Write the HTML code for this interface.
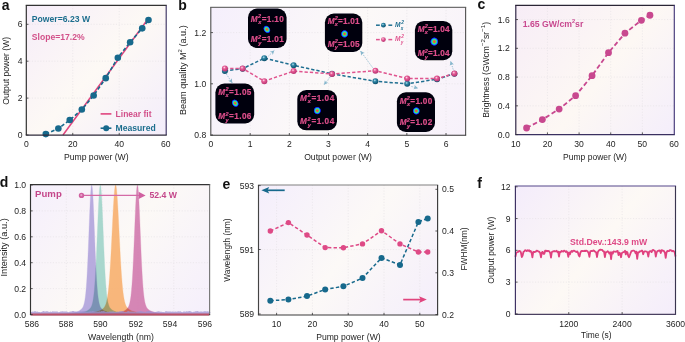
<!DOCTYPE html>
<html><head><meta charset="utf-8"><style>
html,body{margin:0;padding:0;background:#fff;width:685px;height:342px;overflow:hidden}
svg{display:block}
text{font-family:"Liberation Sans", sans-serif}
</style></head><body>
<svg width="685" height="342" viewBox="0 0 685 342">
<defs><linearGradient id="ga" gradientUnits="userSpaceOnUse" x1="26.3" y1="5.4" x2="166.2" y2="135.1"><stop offset="0" stop-color="#f6edf9"/><stop offset="0.5" stop-color="#fdf9f5"/><stop offset="1" stop-color="#f3edfb"/></linearGradient><linearGradient id="gb" gradientUnits="userSpaceOnUse" x1="210.8" y1="7.3" x2="465.6" y2="135.2"><stop offset="0" stop-color="#f5effc"/><stop offset="0.5" stop-color="#fcf9f8"/><stop offset="1" stop-color="#f7f1fb"/></linearGradient><radialGradient id="tg" cx="0.4" cy="0.35" r="0.65"><stop offset="0" stop-color="#bfe3ee"/><stop offset="0.35" stop-color="#2f86a6"/><stop offset="1" stop-color="#0d4e6b"/></radialGradient><radialGradient id="pg" cx="0.4" cy="0.35" r="0.65"><stop offset="0" stop-color="#fde0ee"/><stop offset="0.35" stop-color="#e65d97"/><stop offset="1" stop-color="#b93372"/></radialGradient><radialGradient id="spot"><stop offset="0" stop-color="#ff2868"/><stop offset="0.2" stop-color="#f05a3a"/><stop offset="0.42" stop-color="#48f058"/><stop offset="0.6" stop-color="#18c8e0"/><stop offset="0.78" stop-color="#1030ff"/><stop offset="0.92" stop-color="#080890"/><stop offset="1" stop-color="#000030" stop-opacity="0"/></radialGradient><filter id="soft" x="-10%" y="-10%" width="120%" height="120%"><feGaussianBlur stdDeviation="0.35"/></filter><linearGradient id="gc" gradientUnits="userSpaceOnUse" x1="515.8" y1="5.3" x2="674.3" y2="134.6"><stop offset="0" stop-color="#f7edf7"/><stop offset="0.55" stop-color="#fdf8f4"/><stop offset="1" stop-color="#f4eefb"/></linearGradient><linearGradient id="gd" gradientUnits="userSpaceOnUse" x1="30.5" y1="184.6" x2="209.6" y2="314.6"><stop offset="0" stop-color="#f5effc"/><stop offset="0.5" stop-color="#fcf9f6"/><stop offset="1" stop-color="#f5effc"/></linearGradient><linearGradient id="ge" gradientUnits="userSpaceOnUse" x1="258.5" y1="185" x2="437.6" y2="315"><stop offset="0" stop-color="#f4eefc"/><stop offset="0.5" stop-color="#fcf9f7"/><stop offset="1" stop-color="#f4eefb"/></linearGradient><linearGradient id="gf" gradientUnits="userSpaceOnUse" x1="515.4" y1="186" x2="675.5" y2="314.3"><stop offset="0" stop-color="#f4ecfb"/><stop offset="0.5" stop-color="#fdf9f5"/><stop offset="1" stop-color="#f4edfb"/></linearGradient></defs>
<rect width="685" height="342" fill="#fff"/>
<rect x="26.3" y="5.4" width="139.90" height="129.70" fill="url(#ga)"/>
<line x1="26.3" y1="98.10" x2="166.2" y2="98.10" stroke="#e2dee2" stroke-width="0.55" stroke-dasharray="1.1 1.7"/>
<line x1="26.3" y1="61.20" x2="166.2" y2="61.20" stroke="#e2dee2" stroke-width="0.55" stroke-dasharray="1.1 1.7"/>
<line x1="26.3" y1="24.30" x2="166.2" y2="24.30" stroke="#e2dee2" stroke-width="0.55" stroke-dasharray="1.1 1.7"/>
<line x1="72.76" y1="5.4" x2="72.76" y2="135.1" stroke="#e2dee2" stroke-width="0.55" stroke-dasharray="1.1 1.7"/>
<line x1="119.22" y1="5.4" x2="119.22" y2="135.1" stroke="#e2dee2" stroke-width="0.55" stroke-dasharray="1.1 1.7"/>
<line x1="63.00" y1="135.00" x2="148.49" y2="18.22" stroke="#e0457e" stroke-width="1.5"/>
<polyline points="45.81,134.08 58.36,128.54 69.74,120.06 81.82,109.54 93.67,95.52 105.75,78.17 117.83,57.69 130.14,42.20 142.22,28.36 148.49,20.06" fill="none" stroke="#17698c" stroke-width="1.6" stroke-dasharray="3.6 2.2" stroke-linejoin="round"/>
<circle cx="45.81" cy="134.08" r="3.3" fill="#17698c"/>
<circle cx="58.36" cy="128.54" r="3.3" fill="#17698c"/>
<circle cx="69.74" cy="120.06" r="3.3" fill="#17698c"/>
<circle cx="81.82" cy="109.54" r="3.3" fill="#17698c"/>
<circle cx="93.67" cy="95.52" r="3.3" fill="#17698c"/>
<circle cx="105.75" cy="78.17" r="3.3" fill="#17698c"/>
<circle cx="117.83" cy="57.69" r="3.3" fill="#17698c"/>
<circle cx="130.14" cy="42.20" r="3.3" fill="#17698c"/>
<circle cx="142.22" cy="28.36" r="3.3" fill="#17698c"/>
<circle cx="148.49" cy="20.06" r="3.3" fill="#17698c"/>
<line x1="25.725" y1="5.4" x2="166.77499999999998" y2="5.4" stroke="#333" stroke-width="1.15"/>
<line x1="166.2" y1="5.4" x2="166.2" y2="135.1" stroke="#3e3463" stroke-width="1.15"/>
<line x1="25.725" y1="135.1" x2="166.77499999999998" y2="135.1" stroke="#2e2a3a" stroke-width="1.15"/>
<line x1="26.3" y1="5.4" x2="26.3" y2="135.1" stroke="#2a2a2a" stroke-width="1.15"/>
<line x1="26.3" y1="135.00" x2="28.5" y2="135.00" stroke="#333" stroke-width="0.8"/>
<text x="22.60" y="138.10" font-size="8.6" text-anchor="end" font-weight="normal" font-style="normal" fill="#1e1e1e">0</text>
<line x1="26.3" y1="98.10" x2="28.5" y2="98.10" stroke="#333" stroke-width="0.8"/>
<text x="22.60" y="101.20" font-size="8.6" text-anchor="end" font-weight="normal" font-style="normal" fill="#1e1e1e">2</text>
<line x1="26.3" y1="61.20" x2="28.5" y2="61.20" stroke="#333" stroke-width="0.8"/>
<text x="22.60" y="64.30" font-size="8.6" text-anchor="end" font-weight="normal" font-style="normal" fill="#1e1e1e">4</text>
<line x1="26.3" y1="24.30" x2="28.5" y2="24.30" stroke="#333" stroke-width="0.8"/>
<text x="22.60" y="27.40" font-size="8.6" text-anchor="end" font-weight="normal" font-style="normal" fill="#1e1e1e">6</text>
<text x="26.30" y="146.90" font-size="8.6" text-anchor="middle" font-weight="normal" font-style="normal" fill="#1e1e1e">0</text>
<line x1="72.76" y1="135.1" x2="72.76" y2="132.9" stroke="#333" stroke-width="0.8"/>
<text x="72.76" y="146.90" font-size="8.6" text-anchor="middle" font-weight="normal" font-style="normal" fill="#1e1e1e">20</text>
<line x1="119.22" y1="135.1" x2="119.22" y2="132.9" stroke="#333" stroke-width="0.8"/>
<text x="119.22" y="146.90" font-size="8.6" text-anchor="middle" font-weight="normal" font-style="normal" fill="#1e1e1e">40</text>
<text x="165.68" y="146.90" font-size="8.6" text-anchor="middle" font-weight="normal" font-style="normal" fill="#1e1e1e">60</text>
<text x="96.30" y="160.00" font-size="8.65" text-anchor="middle" font-weight="normal" font-style="normal" fill="#1e1e1e">Pump power (W)</text>
<text x="9.10" y="70.80" font-size="8.65" text-anchor="middle" font-weight="normal" font-style="normal" fill="#1e1e1e" transform="rotate(-90 9.10 70.80)">Output power (W)</text>
<text x="31.80" y="22.10" font-size="8.65" text-anchor="start" font-weight="bold" font-style="normal" fill="#1d6e8e">Power=6.23 W</text>
<text x="31.80" y="39.80" font-size="8.6" text-anchor="start" font-weight="bold" font-style="normal" fill="#d2508a">Slope=17.2%</text>
<line x1="100.6" y1="113.9" x2="111.4" y2="113.9" stroke="#e0457e" stroke-width="1.6"/>
<text x="115.60" y="117.20" font-size="8.5" text-anchor="start" font-weight="bold" font-style="normal" fill="#d2508a">Linear fit</text>
<line x1="100.6" y1="128.2" x2="111.4" y2="128.2" stroke="#17698c" stroke-width="1.6"/>
<circle cx="106.20" cy="128.20" r="3.0" fill="#17698c"/>
<text x="115.60" y="131.20" font-size="8.6" text-anchor="start" font-weight="bold" font-style="normal" fill="#1d6e8e">Measured</text>
<text x="1.80" y="10.10" font-size="14" text-anchor="start" font-weight="bold" font-style="normal" fill="#111">a</text>
<rect x="210.8" y="7.3" width="254.80" height="127.90" fill="url(#gb)"/>
<line x1="210.8" y1="83.80" x2="465.6" y2="83.80" stroke="#e2dee2" stroke-width="0.55" stroke-dasharray="1.1 1.7"/>
<line x1="210.8" y1="32.60" x2="465.6" y2="32.60" stroke="#e2dee2" stroke-width="0.55" stroke-dasharray="1.1 1.7"/>
<line x1="250.17" y1="7.3" x2="250.17" y2="135.2" stroke="#e2dee2" stroke-width="0.55" stroke-dasharray="1.1 1.7"/>
<line x1="289.34" y1="7.3" x2="289.34" y2="135.2" stroke="#e2dee2" stroke-width="0.55" stroke-dasharray="1.1 1.7"/>
<line x1="328.51" y1="7.3" x2="328.51" y2="135.2" stroke="#e2dee2" stroke-width="0.55" stroke-dasharray="1.1 1.7"/>
<line x1="367.68" y1="7.3" x2="367.68" y2="135.2" stroke="#e2dee2" stroke-width="0.55" stroke-dasharray="1.1 1.7"/>
<line x1="406.85" y1="7.3" x2="406.85" y2="135.2" stroke="#e2dee2" stroke-width="0.55" stroke-dasharray="1.1 1.7"/>
<line x1="446.02" y1="7.3" x2="446.02" y2="135.2" stroke="#e2dee2" stroke-width="0.55" stroke-dasharray="1.1 1.7"/>
<polyline points="224.90,70.90 242.60,68.70 264.30,58.20 293.60,65.30 332.00,73.80 375.40,81.30 407.20,83.80 437.00,79.20 454.40,73.70" fill="none" stroke="#1f6f91" stroke-width="1.5" stroke-dasharray="3.3 2" stroke-linejoin="round"/>
<polyline points="224.90,68.40 242.60,68.50 264.30,81.20 293.60,71.10 332.00,74.00 375.40,70.70 407.20,78.50 437.00,78.60 454.40,73.50" fill="none" stroke="#e0558f" stroke-width="1.5" stroke-dasharray="3.3 2" stroke-linejoin="round"/>
<circle cx="224.90" cy="70.90" r="3.0" fill="url(#tg)"/>
<circle cx="242.60" cy="68.70" r="3.0" fill="url(#tg)"/>
<circle cx="264.30" cy="58.20" r="3.0" fill="url(#tg)"/>
<circle cx="293.60" cy="65.30" r="3.0" fill="url(#tg)"/>
<circle cx="332.00" cy="73.80" r="3.0" fill="url(#tg)"/>
<circle cx="375.40" cy="81.30" r="3.0" fill="url(#tg)"/>
<circle cx="407.20" cy="83.80" r="3.0" fill="url(#tg)"/>
<circle cx="437.00" cy="79.20" r="3.0" fill="url(#tg)"/>
<circle cx="454.40" cy="73.70" r="3.0" fill="url(#tg)"/>
<circle cx="224.90" cy="68.40" r="3.0" fill="url(#pg)"/>
<circle cx="242.60" cy="68.50" r="3.0" fill="url(#pg)"/>
<circle cx="264.30" cy="81.20" r="3.0" fill="url(#pg)"/>
<circle cx="293.60" cy="71.10" r="3.0" fill="url(#pg)"/>
<circle cx="332.00" cy="74.00" r="3.0" fill="url(#pg)"/>
<circle cx="375.40" cy="70.70" r="3.0" fill="url(#pg)"/>
<circle cx="407.20" cy="78.50" r="3.0" fill="url(#pg)"/>
<circle cx="437.00" cy="78.60" r="3.0" fill="url(#pg)"/>
<circle cx="454.40" cy="73.50" r="3.0" fill="url(#pg)"/>
<line x1="226.2" y1="73.8" x2="232.3" y2="83.0" stroke="#86b6cc" stroke-width="0.9" stroke-dasharray="1.2 1.2"/>
<path d="M232.30,83.00 L228.15,80.72 L230.53,80.33 L231.81,78.28 Z" fill="#86b6cc"/>
<line x1="268.5" y1="56.0" x2="274.3" y2="50.4" stroke="#86b6cc" stroke-width="0.9" stroke-dasharray="1.2 1.2"/>
<path d="M274.30,50.40 L272.81,54.90 L272.00,52.62 L269.75,51.73 Z" fill="#86b6cc"/>
<line x1="330.3" y1="76.8" x2="324.0" y2="84.8" stroke="#86b6cc" stroke-width="0.9" stroke-dasharray="1.2 1.2"/>
<path d="M324.00,84.80 L324.87,80.14 L325.98,82.29 L328.33,82.86 Z" fill="#86b6cc"/>
<line x1="372.5" y1="67.5" x2="360.5" y2="51.0" stroke="#86b6cc" stroke-width="0.9" stroke-dasharray="1.2 1.2"/>
<path d="M360.50,51.00 L364.75,53.10 L362.38,53.59 L361.19,55.69 Z" fill="#86b6cc"/>
<line x1="411.5" y1="86.5" x2="418.0" y2="88.2" stroke="#86b6cc" stroke-width="0.9" stroke-dasharray="1.2 1.2"/>
<path d="M418.00,88.20 L413.38,89.27 L414.90,87.39 L414.49,85.01 Z" fill="#86b6cc"/>
<line x1="453.2" y1="69.5" x2="450.6" y2="61.2" stroke="#86b6cc" stroke-width="0.9" stroke-dasharray="1.2 1.2"/>
<path d="M450.60,61.20 L453.95,64.55 L451.56,64.25 L449.76,65.87 Z" fill="#86b6cc"/>
<line x1="210.22500000000002" y1="7.3" x2="466.175" y2="7.3" stroke="#707070" stroke-width="1.15"/>
<line x1="465.6" y1="7.3" x2="465.6" y2="135.2" stroke="#555" stroke-width="1.15"/>
<line x1="210.22500000000002" y1="135.2" x2="466.175" y2="135.2" stroke="#333" stroke-width="1.15"/>
<line x1="210.8" y1="7.3" x2="210.8" y2="135.2" stroke="#555" stroke-width="1.15"/>
<line x1="210.8" y1="135.00" x2="213.0" y2="135.00" stroke="#333" stroke-width="0.8"/>
<text x="206.20" y="138.10" font-size="8.6" text-anchor="end" font-weight="normal" font-style="normal" fill="#1e1e1e">0.8</text>
<line x1="210.8" y1="83.80" x2="213.0" y2="83.80" stroke="#333" stroke-width="0.8"/>
<text x="206.20" y="86.90" font-size="8.6" text-anchor="end" font-weight="normal" font-style="normal" fill="#1e1e1e">1.0</text>
<line x1="210.8" y1="32.60" x2="213.0" y2="32.60" stroke="#333" stroke-width="0.8"/>
<text x="206.20" y="35.70" font-size="8.6" text-anchor="end" font-weight="normal" font-style="normal" fill="#1e1e1e">1.2</text>
<text x="211.00" y="146.90" font-size="8.6" text-anchor="middle" font-weight="normal" font-style="normal" fill="#1e1e1e">0</text>
<line x1="250.17" y1="135.2" x2="250.17" y2="133.0" stroke="#333" stroke-width="0.8"/>
<text x="250.17" y="146.90" font-size="8.6" text-anchor="middle" font-weight="normal" font-style="normal" fill="#1e1e1e">1</text>
<line x1="289.34" y1="135.2" x2="289.34" y2="133.0" stroke="#333" stroke-width="0.8"/>
<text x="289.34" y="146.90" font-size="8.6" text-anchor="middle" font-weight="normal" font-style="normal" fill="#1e1e1e">2</text>
<line x1="328.51" y1="135.2" x2="328.51" y2="133.0" stroke="#333" stroke-width="0.8"/>
<text x="328.51" y="146.90" font-size="8.6" text-anchor="middle" font-weight="normal" font-style="normal" fill="#1e1e1e">3</text>
<line x1="367.68" y1="135.2" x2="367.68" y2="133.0" stroke="#333" stroke-width="0.8"/>
<text x="367.68" y="146.90" font-size="8.6" text-anchor="middle" font-weight="normal" font-style="normal" fill="#1e1e1e">4</text>
<line x1="406.85" y1="135.2" x2="406.85" y2="133.0" stroke="#333" stroke-width="0.8"/>
<text x="406.85" y="146.90" font-size="8.6" text-anchor="middle" font-weight="normal" font-style="normal" fill="#1e1e1e">5</text>
<line x1="446.02" y1="135.2" x2="446.02" y2="133.0" stroke="#333" stroke-width="0.8"/>
<text x="446.02" y="146.90" font-size="8.6" text-anchor="middle" font-weight="normal" font-style="normal" fill="#1e1e1e">6</text>
<text x="338.10" y="159.70" font-size="8.6" text-anchor="middle" font-weight="normal" font-style="normal" fill="#1e1e1e">Output power (W)</text>
<text x="185.60" y="70.20" font-size="9.1" text-anchor="middle" font-weight="normal" font-style="normal" fill="#1e1e1e" transform="rotate(-90 185.60 70.20)">Beam quality M<tspan dy="-3.6" font-size="6">2</tspan><tspan dy="3.6"> (a.u.)</tspan></text>
<text x="178.30" y="10.40" font-size="14" text-anchor="start" font-weight="bold" font-style="normal" fill="#111">b</text>
<rect x="248.0" y="8.6" width="38.60" height="39.30" rx="9" ry="9" fill="#05040f" filter="url(#soft)"/>
<text x="250.80" y="22.00" font-size="8.2" font-weight="bold" fill="#dc4e8b" stroke="#dc4e8b" stroke-width="0.2" textLength="33.0" lengthAdjust="spacing"><tspan font-style="italic">M</tspan><tspan dy="-3.6" font-size="5.6" font-style="italic">2</tspan><tspan dx="-3.3" dy="6.0" font-size="5.6" font-style="italic">x</tspan><tspan dy="-2.4">=</tspan>1.10</text>
<text x="250.80" y="42.40" font-size="8.2" font-weight="bold" fill="#dc4e8b" stroke="#dc4e8b" stroke-width="0.2" textLength="33.0" lengthAdjust="spacing"><tspan font-style="italic">M</tspan><tspan dy="-3.6" font-size="5.6" font-style="italic">2</tspan><tspan dx="-3.3" dy="6.0" font-size="5.6" font-style="italic">y</tspan><tspan dy="-2.4">=</tspan>1.01</text>
<ellipse cx="266.9" cy="29.4" rx="3.4" ry="4.4" fill="url(#spot)" transform="rotate(-35 266.9 29.4)"/>
<rect x="215.4" y="83.6" width="38.80" height="39.90" rx="9" ry="9" fill="#05040f" filter="url(#soft)"/>
<text x="218.20" y="94.90" font-size="8.2" font-weight="bold" fill="#dc4e8b" stroke="#dc4e8b" stroke-width="0.2" textLength="33.2" lengthAdjust="spacing"><tspan font-style="italic">M</tspan><tspan dy="-3.6" font-size="5.6" font-style="italic">2</tspan><tspan dx="-3.3" dy="6.0" font-size="5.6" font-style="italic">x</tspan><tspan dy="-2.4">=</tspan>1.05</text>
<text x="218.20" y="119.40" font-size="8.2" font-weight="bold" fill="#dc4e8b" stroke="#dc4e8b" stroke-width="0.2" textLength="33.2" lengthAdjust="spacing"><tspan font-style="italic">M</tspan><tspan dy="-3.6" font-size="5.6" font-style="italic">2</tspan><tspan dx="-3.3" dy="6.0" font-size="5.6" font-style="italic">y</tspan><tspan dy="-2.4">=</tspan>1.06</text>
<ellipse cx="235.2" cy="103.2" rx="3.4" ry="4.3" fill="url(#spot)" transform="rotate(-35 235.2 103.2)"/>
<rect x="324.9" y="13.5" width="37.40" height="38.50" rx="9" ry="9" fill="#05040f" filter="url(#soft)"/>
<text x="327.70" y="23.60" font-size="8.2" font-weight="bold" fill="#dc4e8b" stroke="#dc4e8b" stroke-width="0.2" textLength="31.8" lengthAdjust="spacing"><tspan font-style="italic">M</tspan><tspan dy="-3.6" font-size="5.6" font-style="italic">2</tspan><tspan dx="-3.3" dy="6.0" font-size="5.6" font-style="italic">x</tspan><tspan dy="-2.4">=</tspan>1.01</text>
<text x="327.70" y="46.80" font-size="8.2" font-weight="bold" fill="#dc4e8b" stroke="#dc4e8b" stroke-width="0.2" textLength="31.8" lengthAdjust="spacing"><tspan font-style="italic">M</tspan><tspan dy="-3.6" font-size="5.6" font-style="italic">2</tspan><tspan dx="-3.3" dy="6.0" font-size="5.6" font-style="italic">y</tspan><tspan dy="-2.4">=</tspan>1.05</text>
<ellipse cx="344.6" cy="33.9" rx="3.9" ry="4.1" fill="url(#spot)" transform="rotate(0 344.6 33.9)"/>
<rect x="297.3" y="90" width="39.70" height="40.30" rx="9" ry="9" fill="#05040f" filter="url(#soft)"/>
<text x="300.10" y="100.90" font-size="8.2" font-weight="bold" fill="#dc4e8b" stroke="#dc4e8b" stroke-width="0.2" textLength="34.1" lengthAdjust="spacing"><tspan font-style="italic">M</tspan><tspan dy="-3.6" font-size="5.6" font-style="italic">2</tspan><tspan dx="-3.3" dy="6.0" font-size="5.6" font-style="italic">x</tspan><tspan dy="-2.4">=</tspan>1.04</text>
<text x="300.10" y="124.30" font-size="8.2" font-weight="bold" fill="#dc4e8b" stroke="#dc4e8b" stroke-width="0.2" textLength="34.1" lengthAdjust="spacing"><tspan font-style="italic">M</tspan><tspan dy="-3.6" font-size="5.6" font-style="italic">2</tspan><tspan dx="-3.3" dy="6.0" font-size="5.6" font-style="italic">y</tspan><tspan dy="-2.4">=</tspan>1.04</text>
<ellipse cx="317.3" cy="110.6" rx="3.9" ry="4.1" fill="url(#spot)" transform="rotate(0 317.3 110.6)"/>
<rect x="396.9" y="92.3" width="38.10" height="39.60" rx="9" ry="9" fill="#05040f" filter="url(#soft)"/>
<text x="399.70" y="103.90" font-size="8.2" font-weight="bold" fill="#dc4e8b" stroke="#dc4e8b" stroke-width="0.2" textLength="32.5" lengthAdjust="spacing"><tspan font-style="italic">M</tspan><tspan dy="-3.6" font-size="5.6" font-style="italic">2</tspan><tspan dx="-3.3" dy="6.0" font-size="5.6" font-style="italic">x</tspan><tspan dy="-2.4">=</tspan>1.00</text>
<text x="399.70" y="125.40" font-size="8.2" font-weight="bold" fill="#dc4e8b" stroke="#dc4e8b" stroke-width="0.2" textLength="32.5" lengthAdjust="spacing"><tspan font-style="italic">M</tspan><tspan dy="-3.6" font-size="5.6" font-style="italic">2</tspan><tspan dx="-3.3" dy="6.0" font-size="5.6" font-style="italic">y</tspan><tspan dy="-2.4">=</tspan>1.02</text>
<ellipse cx="416.3" cy="110.9" rx="3.8" ry="4.0" fill="url(#spot)" transform="rotate(0 416.3 110.9)"/>
<rect x="414.9" y="20.9" width="37.40" height="39.30" rx="9" ry="9" fill="#05040f" filter="url(#soft)"/>
<text x="417.70" y="31.90" font-size="8.2" font-weight="bold" fill="#dc4e8b" stroke="#dc4e8b" stroke-width="0.2" textLength="31.8" lengthAdjust="spacing"><tspan font-style="italic">M</tspan><tspan dy="-3.6" font-size="5.6" font-style="italic">2</tspan><tspan dx="-3.3" dy="6.0" font-size="5.6" font-style="italic">x</tspan><tspan dy="-2.4">=</tspan>1.04</text>
<text x="417.70" y="56.40" font-size="8.2" font-weight="bold" fill="#dc4e8b" stroke="#dc4e8b" stroke-width="0.2" textLength="31.8" lengthAdjust="spacing"><tspan font-style="italic">M</tspan><tspan dy="-3.6" font-size="5.6" font-style="italic">2</tspan><tspan dx="-3.3" dy="6.0" font-size="5.6" font-style="italic">y</tspan><tspan dy="-2.4">=</tspan>1.04</text>
<ellipse cx="434.3" cy="41.6" rx="4.3" ry="4.5" fill="url(#spot)" transform="rotate(0 434.3 41.6)"/>
<line x1="376" y1="25.2" x2="379.8" y2="25.2" stroke="#1f6f91" stroke-width="1.5"/>
<line x1="388.4" y1="25.2" x2="392.2" y2="25.2" stroke="#1f6f91" stroke-width="1.5"/>
<circle cx="383.40" cy="25.20" r="2.4" fill="url(#tg)"/>
<text x="395.00" y="26.90" font-size="6.6" text-anchor="start" font-weight="bold" font-style="italic" fill="#1f6f91">M<tspan dx="0.7" dy="-3.2" font-size="4.8">2</tspan><tspan dx="-3.0" dy="5.8" font-size="4.6">x</tspan></text>
<line x1="376" y1="39.6" x2="379.8" y2="39.6" stroke="#e0558f" stroke-width="1.5"/>
<line x1="388.4" y1="39.6" x2="392.2" y2="39.6" stroke="#e0558f" stroke-width="1.5"/>
<circle cx="383.40" cy="39.60" r="2.4" fill="url(#pg)"/>
<text x="395.00" y="41.30" font-size="6.6" text-anchor="start" font-weight="bold" font-style="italic" fill="#e0558f">M<tspan dx="0.7" dy="-3.2" font-size="4.8">2</tspan><tspan dx="-3.0" dy="5.8" font-size="4.6">y</tspan></text>
<rect x="515.8" y="5.3" width="158.50" height="129.30" fill="url(#gc)"/>
<line x1="515.8" y1="105.84" x2="674.3" y2="105.84" stroke="#e2dee2" stroke-width="0.55" stroke-dasharray="1.1 1.7"/>
<line x1="515.8" y1="77.08" x2="674.3" y2="77.08" stroke="#e2dee2" stroke-width="0.55" stroke-dasharray="1.1 1.7"/>
<line x1="515.8" y1="48.32" x2="674.3" y2="48.32" stroke="#e2dee2" stroke-width="0.55" stroke-dasharray="1.1 1.7"/>
<line x1="515.8" y1="19.56" x2="674.3" y2="19.56" stroke="#e2dee2" stroke-width="0.55" stroke-dasharray="1.1 1.7"/>
<line x1="547.44" y1="5.3" x2="547.44" y2="134.6" stroke="#e2dee2" stroke-width="0.55" stroke-dasharray="1.1 1.7"/>
<line x1="579.08" y1="5.3" x2="579.08" y2="134.6" stroke="#e2dee2" stroke-width="0.55" stroke-dasharray="1.1 1.7"/>
<line x1="610.72" y1="5.3" x2="610.72" y2="134.6" stroke="#e2dee2" stroke-width="0.55" stroke-dasharray="1.1 1.7"/>
<line x1="642.36" y1="5.3" x2="642.36" y2="134.6" stroke="#e2dee2" stroke-width="0.55" stroke-dasharray="1.1 1.7"/>
<polyline points="526.56,127.99 542.38,119.57 559.15,109.08 575.60,95.63 592.05,75.64 608.51,52.63 624.96,33.22 641.41,20.28 649.95,15.25" fill="none" stroke="#c8488f" stroke-width="1.8" stroke-dasharray="4.6 2.6" stroke-linejoin="round"/>
<circle cx="526.56" cy="127.99" r="3.4" fill="#c8488f"/>
<circle cx="542.38" cy="119.57" r="3.4" fill="#c8488f"/>
<circle cx="559.15" cy="109.08" r="3.4" fill="#c8488f"/>
<circle cx="575.60" cy="95.63" r="3.4" fill="#c8488f"/>
<circle cx="592.05" cy="75.64" r="3.4" fill="#c8488f"/>
<circle cx="608.51" cy="52.63" r="3.4" fill="#c8488f"/>
<circle cx="624.96" cy="33.22" r="3.4" fill="#c8488f"/>
<circle cx="641.41" cy="20.28" r="3.4" fill="#c8488f"/>
<circle cx="649.95" cy="15.25" r="3.4" fill="#c8488f"/>
<line x1="515.2249999999999" y1="5.3" x2="674.875" y2="5.3" stroke="#2a2535" stroke-width="1.15"/>
<line x1="674.3" y1="5.3" x2="674.3" y2="134.6" stroke="#45397a" stroke-width="1.15"/>
<line x1="515.2249999999999" y1="134.6" x2="674.875" y2="134.6" stroke="#3a3060" stroke-width="1.15"/>
<line x1="515.8" y1="5.3" x2="515.8" y2="134.6" stroke="#2a2040" stroke-width="1.15"/>
<line x1="515.8" y1="134.60" x2="518.0" y2="134.60" stroke="#333" stroke-width="0.8"/>
<text x="509.80" y="137.70" font-size="8.6" text-anchor="end" font-weight="normal" font-style="normal" fill="#1e1e1e">0.0</text>
<line x1="515.8" y1="105.84" x2="518.0" y2="105.84" stroke="#333" stroke-width="0.8"/>
<text x="509.80" y="108.94" font-size="8.6" text-anchor="end" font-weight="normal" font-style="normal" fill="#1e1e1e">0.4</text>
<line x1="515.8" y1="77.08" x2="518.0" y2="77.08" stroke="#333" stroke-width="0.8"/>
<text x="509.80" y="80.18" font-size="8.6" text-anchor="end" font-weight="normal" font-style="normal" fill="#1e1e1e">0.8</text>
<line x1="515.8" y1="48.32" x2="518.0" y2="48.32" stroke="#333" stroke-width="0.8"/>
<text x="509.80" y="51.42" font-size="8.6" text-anchor="end" font-weight="normal" font-style="normal" fill="#1e1e1e">1.2</text>
<line x1="515.8" y1="19.56" x2="518.0" y2="19.56" stroke="#333" stroke-width="0.8"/>
<text x="509.80" y="22.66" font-size="8.6" text-anchor="end" font-weight="normal" font-style="normal" fill="#1e1e1e">1.6</text>
<text x="515.80" y="146.90" font-size="8.6" text-anchor="middle" font-weight="normal" font-style="normal" fill="#1e1e1e">10</text>
<line x1="547.44" y1="134.6" x2="547.44" y2="132.4" stroke="#333" stroke-width="0.8"/>
<text x="547.44" y="146.90" font-size="8.6" text-anchor="middle" font-weight="normal" font-style="normal" fill="#1e1e1e">20</text>
<line x1="579.08" y1="134.6" x2="579.08" y2="132.4" stroke="#333" stroke-width="0.8"/>
<text x="579.08" y="146.90" font-size="8.6" text-anchor="middle" font-weight="normal" font-style="normal" fill="#1e1e1e">30</text>
<line x1="610.72" y1="134.6" x2="610.72" y2="132.4" stroke="#333" stroke-width="0.8"/>
<text x="610.72" y="146.90" font-size="8.6" text-anchor="middle" font-weight="normal" font-style="normal" fill="#1e1e1e">40</text>
<line x1="642.36" y1="134.6" x2="642.36" y2="132.4" stroke="#333" stroke-width="0.8"/>
<text x="642.36" y="146.90" font-size="8.6" text-anchor="middle" font-weight="normal" font-style="normal" fill="#1e1e1e">50</text>
<text x="674.00" y="146.90" font-size="8.6" text-anchor="middle" font-weight="normal" font-style="normal" fill="#1e1e1e">60</text>
<text x="595.00" y="160.00" font-size="8.5" text-anchor="middle" font-weight="normal" font-style="normal" fill="#1e1e1e">Pump power (W)</text>
<text x="489.40" y="69.80" font-size="8.55" text-anchor="middle" font-weight="normal" font-style="normal" fill="#1e1e1e" transform="rotate(-90 489.40 69.80)">Brightness (GWcm<tspan dy="-3.9" font-size="6.2">−2</tspan><tspan dy="3.9">sr</tspan><tspan dy="-3.9" font-size="6.2">−1</tspan><tspan dy="3.9">)</tspan></text>
<text x="522.70" y="26.90" font-size="8.7" text-anchor="start" font-weight="bold" font-style="normal" fill="#c8488f">1.65 GW/cm<tspan dy="-3.6" font-size="5.6">2</tspan><tspan dy="3.6">sr</tspan></text>
<text x="477.60" y="9.20" font-size="14" text-anchor="start" font-weight="bold" font-style="normal" fill="#111">c</text>
<rect x="30.5" y="184.6" width="179.10" height="130.00" fill="url(#gd)"/>
<line x1="30.5" y1="288.60" x2="209.6" y2="288.60" stroke="#e2dee2" stroke-width="0.55" stroke-dasharray="1.1 1.7"/>
<line x1="30.5" y1="262.70" x2="209.6" y2="262.70" stroke="#e2dee2" stroke-width="0.55" stroke-dasharray="1.1 1.7"/>
<line x1="30.5" y1="236.80" x2="209.6" y2="236.80" stroke="#e2dee2" stroke-width="0.55" stroke-dasharray="1.1 1.7"/>
<line x1="30.5" y1="210.90" x2="209.6" y2="210.90" stroke="#e2dee2" stroke-width="0.55" stroke-dasharray="1.1 1.7"/>
<line x1="66.32" y1="184.6" x2="66.32" y2="314.6" stroke="#e2dee2" stroke-width="0.55" stroke-dasharray="1.1 1.7"/>
<line x1="102.14" y1="184.6" x2="102.14" y2="314.6" stroke="#e2dee2" stroke-width="0.55" stroke-dasharray="1.1 1.7"/>
<line x1="137.96" y1="184.6" x2="137.96" y2="314.6" stroke="#e2dee2" stroke-width="0.55" stroke-dasharray="1.1 1.7"/>
<line x1="173.78" y1="184.6" x2="173.78" y2="314.6" stroke="#e2dee2" stroke-width="0.55" stroke-dasharray="1.1 1.7"/>
<g style="isolation:isolate" opacity="0.9">
<path d="M30.50,314.32 L31.00,314.32 L31.50,314.32 L31.99,314.32 L32.49,314.31 L32.99,314.31 L33.48,314.31 L33.98,314.30 L34.48,314.30 L34.98,314.30 L35.48,314.29 L35.97,314.29 L36.47,314.28 L36.97,314.28 L37.47,314.28 L37.96,314.27 L38.46,314.27 L38.96,314.26 L39.45,314.26 L39.95,314.25 L40.45,314.25 L40.95,314.24 L41.45,314.24 L41.94,314.23 L42.44,314.23 L42.94,314.22 L43.44,314.22 L43.93,314.21 L44.43,314.21 L44.93,314.20 L45.42,314.19 L45.92,314.19 L46.42,314.18 L46.92,314.17 L47.41,314.17 L47.91,314.16 L48.41,314.15 L48.91,314.14 L49.41,314.13 L49.90,314.13 L50.40,314.12 L50.90,314.11 L51.39,314.10 L51.89,314.09 L52.39,314.08 L52.89,314.07 L53.39,314.05 L53.88,314.04 L54.38,314.03 L54.88,314.02 L55.38,314.01 L55.87,313.99 L56.37,313.98 L56.87,313.96 L57.36,313.95 L57.86,313.93 L58.36,313.91 L58.86,313.90 L59.35,313.88 L59.85,313.86 L60.35,313.84 L60.85,313.82 L61.34,313.80 L61.84,313.77 L62.34,313.75 L62.84,313.72 L63.34,313.70 L63.83,313.67 L64.33,313.64 L64.83,313.61 L65.33,313.57 L65.82,313.54 L66.32,313.50 L66.82,313.46 L67.31,313.42 L67.81,313.38 L68.31,313.33 L68.81,313.28 L69.31,313.23 L69.80,313.17 L70.30,313.11 L70.80,313.05 L71.29,312.98 L71.79,312.91 L72.29,312.83 L72.79,312.75 L73.28,312.65 L73.78,312.56 L74.28,312.45 L74.78,312.34 L75.28,312.21 L75.77,312.08 L76.27,311.93 L76.77,311.77 L77.26,311.60 L77.76,311.40 L78.26,311.19 L78.76,310.96 L79.25,310.70 L79.75,310.42 L80.25,310.09 L80.75,309.72 L81.25,309.30 L81.74,308.79 L82.24,308.18 L82.74,307.41 L83.23,306.41 L83.73,305.10 L84.23,303.33 L84.73,300.95 L85.22,297.76 L85.72,293.52 L86.22,288.02 L86.72,281.05 L87.22,272.51 L87.71,262.39 L88.21,250.88 L88.71,238.35 L89.20,225.43 L89.70,212.90 L90.20,201.70 L90.70,192.80 L91.19,187.03 L91.69,185.00 L92.19,186.92 L92.69,192.57 L93.19,201.40 L93.68,212.54 L94.18,225.04 L94.68,237.97 L95.17,250.51 L95.67,262.06 L96.17,272.23 L96.67,280.82 L97.16,287.83 L97.66,293.38 L98.16,297.65 L98.66,300.87 L99.16,303.27 L99.65,305.05 L100.15,306.38 L100.65,307.38 L101.14,308.16 L101.64,308.77 L102.14,309.28 L102.64,309.71 L103.13,310.08 L103.63,310.41 L104.13,310.70 L104.63,310.95 L105.12,311.19 L105.62,311.40 L106.12,311.59 L106.62,311.77 L107.11,311.93 L107.61,312.07 L108.11,312.21 L108.61,312.33 L109.11,312.45 L109.60,312.55 L110.10,312.65 L110.60,312.74 L111.09,312.83 L111.59,312.91 L112.09,312.98 L112.59,313.05 L113.08,313.11 L113.58,313.17 L114.08,313.23 L114.58,313.28 L115.08,313.33 L115.57,313.38 L116.07,313.42 L116.57,313.46 L117.06,313.50 L117.56,313.54 L118.06,313.57 L118.56,313.61 L119.05,313.64 L119.55,313.67 L120.05,313.70 L120.55,313.72 L121.05,313.75 L121.54,313.77 L122.04,313.80 L122.54,313.82 L123.03,313.84 L123.53,313.86 L124.03,313.88 L124.53,313.90 L125.03,313.91 L125.52,313.93 L126.02,313.95 L126.52,313.96 L127.02,313.98 L127.51,313.99 L128.01,314.01 L128.51,314.02 L129.00,314.03 L129.50,314.04 L130.00,314.05 L130.50,314.07 L131.00,314.08 L131.49,314.09 L131.99,314.10 L132.49,314.11 L132.99,314.12 L133.48,314.13 L133.98,314.13 L134.48,314.14 L134.97,314.15 L135.47,314.16 L135.97,314.17 L136.47,314.17 L136.97,314.18 L137.46,314.19 L137.96,314.19 L138.46,314.20 L138.95,314.21 L139.45,314.21 L139.95,314.22 L140.45,314.22 L140.94,314.23 L141.44,314.23 L141.94,314.24 L142.44,314.24 L142.94,314.25 L143.43,314.25 L143.93,314.26 L144.43,314.26 L144.93,314.27 L145.42,314.27 L145.92,314.28 L146.42,314.28 L146.92,314.28 L147.41,314.29 L147.91,314.29 L148.41,314.30 L148.90,314.30 L149.40,314.30 L149.90,314.31 L150.40,314.31 L150.89,314.31 L151.39,314.32 L151.89,314.32 L152.39,314.32 L152.88,314.32 L153.38,314.33 L153.88,314.33 L154.38,314.33 L154.88,314.33 L155.37,314.34 L155.87,314.34 L156.37,314.34 L156.87,314.34 L157.36,314.35 L157.86,314.35 L158.36,314.35 L158.85,314.35 L159.35,314.36 L159.85,314.36 L160.35,314.36 L160.84,314.36 L161.34,314.36 L161.84,314.37 L162.34,314.37 L162.84,314.37 L163.33,314.37 L163.83,314.37 L164.33,314.37 L164.82,314.38 L165.32,314.38 L165.82,314.38 L166.32,314.38 L166.81,314.38 L167.31,314.38 L167.81,314.39 L168.31,314.39 L168.80,314.39 L169.30,314.39 L169.80,314.39 L170.30,314.39 L170.79,314.39 L171.29,314.40 L171.79,314.40 L172.29,314.40 L172.78,314.40 L173.28,314.40 L173.78,314.40 L174.28,314.40 L174.78,314.40 L175.27,314.41 L175.77,314.41 L176.27,314.41 L176.77,314.41 L177.26,314.41 L177.76,314.41 L178.26,314.41 L178.75,314.41 L179.25,314.41 L179.75,314.41 L180.25,314.42 L180.75,314.42 L181.24,314.42 L181.74,314.42 L182.24,314.42 L182.73,314.42 L183.23,314.42 L183.73,314.42 L184.23,314.42 L184.72,314.42 L185.22,314.42 L185.72,314.43 L186.22,314.43 L186.72,314.43 L187.21,314.43 L187.71,314.43 L188.21,314.43 L188.70,314.43 L189.20,314.43 L189.70,314.43 L190.20,314.43 L190.69,314.43 L191.19,314.43 L191.69,314.43 L192.19,314.43 L192.69,314.44 L193.18,314.44 L193.68,314.44 L194.18,314.44 L194.68,314.44 L195.17,314.44 L195.67,314.44 L196.17,314.44 L196.66,314.44 L197.16,314.44 L197.66,314.44 L198.16,314.44 L198.66,314.44 L199.15,314.44 L199.65,314.44 L200.15,314.44 L200.64,314.44 L201.14,314.44 L201.64,314.45 L202.14,314.45 L202.63,314.45 L203.13,314.45 L203.63,314.45 L204.13,314.45 L204.62,314.45 L205.12,314.45 L205.62,314.45 L206.12,314.45 L206.62,314.45 L207.11,314.45 L207.61,314.45 L208.11,314.45 L208.60,314.45 L209.10,314.45 L209.60,314.45 L209.6,314.6 L30.5,314.6 Z" fill="#b0a3dc" stroke="#b0a3dc" stroke-width="0.3" style="mix-blend-mode:multiply"/>
<path d="M30.50,314.35 L31.00,314.35 L31.50,314.35 L31.99,314.34 L32.49,314.34 L32.99,314.34 L33.48,314.34 L33.98,314.33 L34.48,314.33 L34.98,314.33 L35.48,314.33 L35.97,314.32 L36.47,314.32 L36.97,314.32 L37.47,314.31 L37.96,314.31 L38.46,314.31 L38.96,314.31 L39.45,314.30 L39.95,314.30 L40.45,314.30 L40.95,314.29 L41.45,314.29 L41.94,314.29 L42.44,314.28 L42.94,314.28 L43.44,314.27 L43.93,314.27 L44.43,314.27 L44.93,314.26 L45.42,314.26 L45.92,314.25 L46.42,314.25 L46.92,314.24 L47.41,314.24 L47.91,314.23 L48.41,314.23 L48.91,314.22 L49.41,314.22 L49.90,314.21 L50.40,314.21 L50.90,314.20 L51.39,314.19 L51.89,314.19 L52.39,314.18 L52.89,314.18 L53.39,314.17 L53.88,314.16 L54.38,314.15 L54.88,314.15 L55.38,314.14 L55.87,314.13 L56.37,314.12 L56.87,314.11 L57.36,314.11 L57.86,314.10 L58.36,314.09 L58.86,314.08 L59.35,314.07 L59.85,314.06 L60.35,314.04 L60.85,314.03 L61.34,314.02 L61.84,314.01 L62.34,314.00 L62.84,313.98 L63.34,313.97 L63.83,313.96 L64.33,313.94 L64.83,313.92 L65.33,313.91 L65.82,313.89 L66.32,313.87 L66.82,313.86 L67.31,313.84 L67.81,313.82 L68.31,313.80 L68.81,313.77 L69.31,313.75 L69.80,313.73 L70.30,313.70 L70.80,313.67 L71.29,313.65 L71.79,313.62 L72.29,313.59 L72.79,313.55 L73.28,313.52 L73.78,313.48 L74.28,313.45 L74.78,313.41 L75.28,313.36 L75.77,313.32 L76.27,313.27 L76.77,313.22 L77.26,313.17 L77.76,313.11 L78.26,313.05 L78.76,312.98 L79.25,312.92 L79.75,312.84 L80.25,312.76 L80.75,312.68 L81.25,312.59 L81.74,312.49 L82.24,312.38 L82.74,312.27 L83.23,312.15 L83.73,312.02 L84.23,311.87 L84.73,311.72 L85.22,311.54 L85.72,311.36 L86.22,311.15 L86.72,310.93 L87.22,310.68 L87.71,310.41 L88.21,310.10 L88.71,309.76 L89.20,309.36 L89.70,308.89 L90.20,308.33 L90.70,307.65 L91.19,306.78 L91.69,305.66 L92.19,304.18 L92.69,302.22 L93.19,299.62 L93.68,296.19 L94.18,291.75 L94.68,286.10 L95.17,279.10 L95.67,270.66 L96.17,260.82 L96.67,249.77 L97.16,237.85 L97.66,225.59 L98.16,213.67 L98.66,202.90 L99.16,194.09 L99.65,187.99 L100.15,185.16 L100.65,185.87 L101.14,190.05 L101.64,197.30 L102.14,206.99 L102.64,218.31 L103.13,230.45 L103.63,242.65 L104.13,254.29 L104.63,264.89 L105.12,274.18 L105.62,282.05 L106.12,288.50 L106.62,293.65 L107.11,297.66 L107.61,300.74 L108.11,303.06 L108.61,304.82 L109.11,306.14 L109.60,307.15 L110.10,307.94 L110.60,308.57 L111.09,309.09 L111.59,309.52 L112.09,309.90 L112.59,310.23 L113.08,310.52 L113.58,310.78 L114.08,311.02 L114.58,311.24 L115.08,311.43 L115.57,311.61 L116.07,311.78 L116.57,311.93 L117.06,312.07 L117.56,312.20 L118.06,312.32 L118.56,312.43 L119.05,312.53 L119.55,312.62 L120.05,312.71 L120.55,312.80 L121.05,312.87 L121.54,312.94 L122.04,313.01 L122.54,313.07 L123.03,313.13 L123.53,313.19 L124.03,313.24 L124.53,313.29 L125.03,313.34 L125.52,313.38 L126.02,313.42 L126.52,313.46 L127.02,313.50 L127.51,313.53 L128.01,313.57 L128.51,313.60 L129.00,313.63 L129.50,313.66 L130.00,313.69 L130.50,313.71 L131.00,313.74 L131.49,313.76 L131.99,313.78 L132.49,313.80 L132.99,313.82 L133.48,313.84 L133.98,313.86 L134.48,313.88 L134.97,313.90 L135.47,313.92 L135.97,313.93 L136.47,313.95 L136.97,313.96 L137.46,313.98 L137.96,313.99 L138.46,314.00 L138.95,314.01 L139.45,314.03 L139.95,314.04 L140.45,314.05 L140.94,314.06 L141.44,314.07 L141.94,314.08 L142.44,314.09 L142.94,314.10 L143.43,314.11 L143.93,314.12 L144.43,314.13 L144.93,314.13 L145.42,314.14 L145.92,314.15 L146.42,314.16 L146.92,314.16 L147.41,314.17 L147.91,314.18 L148.41,314.18 L148.90,314.19 L149.40,314.20 L149.90,314.20 L150.40,314.21 L150.89,314.21 L151.39,314.22 L151.89,314.23 L152.39,314.23 L152.88,314.24 L153.38,314.24 L153.88,314.25 L154.38,314.25 L154.88,314.25 L155.37,314.26 L155.87,314.26 L156.37,314.27 L156.87,314.27 L157.36,314.28 L157.86,314.28 L158.36,314.28 L158.85,314.29 L159.35,314.29 L159.85,314.29 L160.35,314.30 L160.84,314.30 L161.34,314.30 L161.84,314.31 L162.34,314.31 L162.84,314.31 L163.33,314.32 L163.83,314.32 L164.33,314.32 L164.82,314.32 L165.32,314.33 L165.82,314.33 L166.32,314.33 L166.81,314.33 L167.31,314.34 L167.81,314.34 L168.31,314.34 L168.80,314.34 L169.30,314.35 L169.80,314.35 L170.30,314.35 L170.79,314.35 L171.29,314.35 L171.79,314.36 L172.29,314.36 L172.78,314.36 L173.28,314.36 L173.78,314.36 L174.28,314.37 L174.78,314.37 L175.27,314.37 L175.77,314.37 L176.27,314.37 L176.77,314.37 L177.26,314.38 L177.76,314.38 L178.26,314.38 L178.75,314.38 L179.25,314.38 L179.75,314.38 L180.25,314.39 L180.75,314.39 L181.24,314.39 L181.74,314.39 L182.24,314.39 L182.73,314.39 L183.23,314.39 L183.73,314.39 L184.23,314.40 L184.72,314.40 L185.22,314.40 L185.72,314.40 L186.22,314.40 L186.72,314.40 L187.21,314.40 L187.71,314.40 L188.21,314.40 L188.70,314.41 L189.20,314.41 L189.70,314.41 L190.20,314.41 L190.69,314.41 L191.19,314.41 L191.69,314.41 L192.19,314.41 L192.69,314.41 L193.18,314.41 L193.68,314.42 L194.18,314.42 L194.68,314.42 L195.17,314.42 L195.67,314.42 L196.17,314.42 L196.66,314.42 L197.16,314.42 L197.66,314.42 L198.16,314.42 L198.66,314.42 L199.15,314.42 L199.65,314.43 L200.15,314.43 L200.64,314.43 L201.14,314.43 L201.64,314.43 L202.14,314.43 L202.63,314.43 L203.13,314.43 L203.63,314.43 L204.13,314.43 L204.62,314.43 L205.12,314.43 L205.62,314.43 L206.12,314.43 L206.62,314.43 L207.11,314.44 L207.61,314.44 L208.11,314.44 L208.60,314.44 L209.10,314.44 L209.60,314.44 L209.6,314.6 L30.5,314.6 Z" fill="#a0d4c9" stroke="#a0d4c9" stroke-width="0.3" style="mix-blend-mode:multiply"/>
<path d="M30.50,314.35 L31.00,314.35 L31.50,314.35 L31.99,314.35 L32.49,314.35 L32.99,314.34 L33.48,314.34 L33.98,314.34 L34.48,314.34 L34.98,314.34 L35.48,314.33 L35.97,314.33 L36.47,314.33 L36.97,314.33 L37.47,314.33 L37.96,314.32 L38.46,314.32 L38.96,314.32 L39.45,314.32 L39.95,314.31 L40.45,314.31 L40.95,314.31 L41.45,314.31 L41.94,314.30 L42.44,314.30 L42.94,314.30 L43.44,314.30 L43.93,314.29 L44.43,314.29 L44.93,314.29 L45.42,314.28 L45.92,314.28 L46.42,314.28 L46.92,314.27 L47.41,314.27 L47.91,314.27 L48.41,314.26 L48.91,314.26 L49.41,314.26 L49.90,314.25 L50.40,314.25 L50.90,314.25 L51.39,314.24 L51.89,314.24 L52.39,314.23 L52.89,314.23 L53.39,314.23 L53.88,314.22 L54.38,314.22 L54.88,314.21 L55.38,314.21 L55.87,314.20 L56.37,314.20 L56.87,314.19 L57.36,314.19 L57.86,314.18 L58.36,314.18 L58.86,314.17 L59.35,314.16 L59.85,314.16 L60.35,314.15 L60.85,314.15 L61.34,314.14 L61.84,314.13 L62.34,314.13 L62.84,314.12 L63.34,314.11 L63.83,314.10 L64.33,314.10 L64.83,314.09 L65.33,314.08 L65.82,314.07 L66.32,314.06 L66.82,314.06 L67.31,314.05 L67.81,314.04 L68.31,314.03 L68.81,314.02 L69.31,314.01 L69.80,314.00 L70.30,313.99 L70.80,313.97 L71.29,313.96 L71.79,313.95 L72.29,313.94 L72.79,313.92 L73.28,313.91 L73.78,313.90 L74.28,313.88 L74.78,313.87 L75.28,313.85 L75.77,313.84 L76.27,313.82 L76.77,313.80 L77.26,313.79 L77.76,313.77 L78.26,313.75 L78.76,313.73 L79.25,313.71 L79.75,313.69 L80.25,313.66 L80.75,313.64 L81.25,313.62 L81.74,313.59 L82.24,313.56 L82.74,313.54 L83.23,313.51 L83.73,313.48 L84.23,313.44 L84.73,313.41 L85.22,313.38 L85.72,313.34 L86.22,313.30 L86.72,313.26 L87.22,313.22 L87.71,313.18 L88.21,313.13 L88.71,313.08 L89.20,313.03 L89.70,312.97 L90.20,312.92 L90.70,312.86 L91.19,312.79 L91.69,312.72 L92.19,312.65 L92.69,312.57 L93.19,312.49 L93.68,312.41 L94.18,312.31 L94.68,312.22 L95.17,312.11 L95.67,312.00 L96.17,311.88 L96.67,311.75 L97.16,311.61 L97.66,311.47 L98.16,311.31 L98.66,311.14 L99.16,310.95 L99.65,310.75 L100.15,310.53 L100.65,310.29 L101.14,310.03 L101.64,309.74 L102.14,309.41 L102.64,309.03 L103.13,308.60 L103.63,308.10 L104.13,307.49 L104.63,306.75 L105.12,305.84 L105.62,304.69 L106.12,303.24 L106.62,301.41 L107.11,299.10 L107.61,296.20 L108.11,292.60 L108.61,288.19 L109.11,282.89 L109.60,276.61 L110.10,269.35 L110.60,261.14 L111.09,252.08 L111.59,242.36 L112.09,232.26 L112.59,222.13 L113.08,212.38 L113.58,203.48 L114.08,195.90 L114.58,190.07 L115.08,186.36 L115.57,185.00 L116.07,186.09 L116.57,189.55 L117.06,195.16 L117.56,202.57 L118.06,211.35 L118.56,221.03 L119.05,231.14 L119.55,241.26 L120.05,251.03 L120.55,260.18 L121.05,268.49 L121.54,275.86 L122.04,282.24 L122.54,287.65 L123.03,292.15 L123.53,295.84 L124.03,298.81 L124.53,301.18 L125.03,303.06 L125.52,304.55 L126.02,305.72 L126.52,306.66 L127.02,307.42 L127.51,308.04 L128.01,308.55 L128.51,308.99 L129.00,309.37 L129.50,309.70 L130.00,310.00 L130.50,310.26 L131.00,310.51 L131.49,310.73 L131.99,310.93 L132.49,311.12 L132.99,311.29 L133.48,311.45 L133.98,311.60 L134.48,311.74 L134.97,311.87 L135.47,311.99 L135.97,312.10 L136.47,312.21 L136.97,312.30 L137.46,312.40 L137.96,312.48 L138.46,312.57 L138.95,312.64 L139.45,312.72 L139.95,312.78 L140.45,312.85 L140.94,312.91 L141.44,312.97 L141.94,313.02 L142.44,313.07 L142.94,313.12 L143.43,313.17 L143.93,313.21 L144.43,313.26 L144.93,313.30 L145.42,313.34 L145.92,313.37 L146.42,313.41 L146.92,313.44 L147.41,313.47 L147.91,313.50 L148.41,313.53 L148.90,313.56 L149.40,313.59 L149.90,313.61 L150.40,313.64 L150.89,313.66 L151.39,313.68 L151.89,313.70 L152.39,313.73 L152.88,313.75 L153.38,313.77 L153.88,313.78 L154.38,313.80 L154.88,313.82 L155.37,313.84 L155.87,313.85 L156.37,313.87 L156.87,313.88 L157.36,313.90 L157.86,313.91 L158.36,313.92 L158.85,313.94 L159.35,313.95 L159.85,313.96 L160.35,313.97 L160.84,313.98 L161.34,314.00 L161.84,314.01 L162.34,314.02 L162.84,314.03 L163.33,314.04 L163.83,314.05 L164.33,314.05 L164.82,314.06 L165.32,314.07 L165.82,314.08 L166.32,314.09 L166.81,314.10 L167.31,314.10 L167.81,314.11 L168.31,314.12 L168.80,314.13 L169.30,314.13 L169.80,314.14 L170.30,314.15 L170.79,314.15 L171.29,314.16 L171.79,314.16 L172.29,314.17 L172.78,314.18 L173.28,314.18 L173.78,314.19 L174.28,314.19 L174.78,314.20 L175.27,314.20 L175.77,314.21 L176.27,314.21 L176.77,314.22 L177.26,314.22 L177.76,314.22 L178.26,314.23 L178.75,314.23 L179.25,314.24 L179.75,314.24 L180.25,314.25 L180.75,314.25 L181.24,314.25 L181.74,314.26 L182.24,314.26 L182.73,314.26 L183.23,314.27 L183.73,314.27 L184.23,314.27 L184.72,314.28 L185.22,314.28 L185.72,314.28 L186.22,314.29 L186.72,314.29 L187.21,314.29 L187.71,314.30 L188.21,314.30 L188.70,314.30 L189.20,314.30 L189.70,314.31 L190.20,314.31 L190.69,314.31 L191.19,314.31 L191.69,314.32 L192.19,314.32 L192.69,314.32 L193.18,314.32 L193.68,314.33 L194.18,314.33 L194.68,314.33 L195.17,314.33 L195.67,314.33 L196.17,314.34 L196.66,314.34 L197.16,314.34 L197.66,314.34 L198.16,314.34 L198.66,314.35 L199.15,314.35 L199.65,314.35 L200.15,314.35 L200.64,314.35 L201.14,314.35 L201.64,314.36 L202.14,314.36 L202.63,314.36 L203.13,314.36 L203.63,314.36 L204.13,314.36 L204.62,314.37 L205.12,314.37 L205.62,314.37 L206.12,314.37 L206.62,314.37 L207.11,314.37 L207.61,314.37 L208.11,314.38 L208.60,314.38 L209.10,314.38 L209.60,314.38 L209.6,314.6 L30.5,314.6 Z" fill="#f8b06e" stroke="#f8b06e" stroke-width="0.3" style="mix-blend-mode:multiply"/>
<path d="M30.50,314.44 L31.00,314.44 L31.50,314.44 L31.99,314.44 L32.49,314.44 L32.99,314.43 L33.48,314.43 L33.98,314.43 L34.48,314.43 L34.98,314.43 L35.48,314.43 L35.97,314.43 L36.47,314.43 L36.97,314.43 L37.47,314.43 L37.96,314.43 L38.46,314.43 L38.96,314.43 L39.45,314.43 L39.95,314.43 L40.45,314.42 L40.95,314.42 L41.45,314.42 L41.94,314.42 L42.44,314.42 L42.94,314.42 L43.44,314.42 L43.93,314.42 L44.43,314.42 L44.93,314.42 L45.42,314.42 L45.92,314.42 L46.42,314.41 L46.92,314.41 L47.41,314.41 L47.91,314.41 L48.41,314.41 L48.91,314.41 L49.41,314.41 L49.90,314.41 L50.40,314.41 L50.90,314.41 L51.39,314.40 L51.89,314.40 L52.39,314.40 L52.89,314.40 L53.39,314.40 L53.88,314.40 L54.38,314.40 L54.88,314.40 L55.38,314.39 L55.87,314.39 L56.37,314.39 L56.87,314.39 L57.36,314.39 L57.86,314.39 L58.36,314.39 L58.86,314.39 L59.35,314.38 L59.85,314.38 L60.35,314.38 L60.85,314.38 L61.34,314.38 L61.84,314.38 L62.34,314.37 L62.84,314.37 L63.34,314.37 L63.83,314.37 L64.33,314.37 L64.83,314.37 L65.33,314.36 L65.82,314.36 L66.32,314.36 L66.82,314.36 L67.31,314.36 L67.81,314.35 L68.31,314.35 L68.81,314.35 L69.31,314.35 L69.80,314.35 L70.30,314.34 L70.80,314.34 L71.29,314.34 L71.79,314.34 L72.29,314.33 L72.79,314.33 L73.28,314.33 L73.78,314.33 L74.28,314.32 L74.78,314.32 L75.28,314.32 L75.77,314.31 L76.27,314.31 L76.77,314.31 L77.26,314.30 L77.76,314.30 L78.26,314.30 L78.76,314.29 L79.25,314.29 L79.75,314.29 L80.25,314.28 L80.75,314.28 L81.25,314.28 L81.74,314.27 L82.24,314.27 L82.74,314.26 L83.23,314.26 L83.73,314.25 L84.23,314.25 L84.73,314.25 L85.22,314.24 L85.72,314.24 L86.22,314.23 L86.72,314.23 L87.22,314.22 L87.71,314.21 L88.21,314.21 L88.71,314.20 L89.20,314.20 L89.70,314.19 L90.20,314.18 L90.70,314.18 L91.19,314.17 L91.69,314.16 L92.19,314.16 L92.69,314.15 L93.19,314.14 L93.68,314.13 L94.18,314.12 L94.68,314.11 L95.17,314.11 L95.67,314.10 L96.17,314.09 L96.67,314.08 L97.16,314.07 L97.66,314.06 L98.16,314.04 L98.66,314.03 L99.16,314.02 L99.65,314.01 L100.15,314.00 L100.65,313.98 L101.14,313.97 L101.64,313.95 L102.14,313.94 L102.64,313.92 L103.13,313.91 L103.63,313.89 L104.13,313.87 L104.63,313.85 L105.12,313.83 L105.62,313.81 L106.12,313.79 L106.62,313.77 L107.11,313.74 L107.61,313.72 L108.11,313.69 L108.61,313.66 L109.11,313.63 L109.60,313.60 L110.10,313.57 L110.60,313.54 L111.09,313.50 L111.59,313.47 L112.09,313.43 L112.59,313.38 L113.08,313.34 L113.58,313.29 L114.08,313.24 L114.58,313.19 L115.08,313.13 L115.57,313.07 L116.07,313.01 L116.57,312.94 L117.06,312.86 L117.56,312.79 L118.06,312.70 L118.56,312.61 L119.05,312.51 L119.55,312.41 L120.05,312.29 L120.55,312.17 L121.05,312.04 L121.54,311.89 L122.04,311.73 L122.54,311.56 L123.03,311.37 L123.53,311.17 L124.03,310.94 L124.53,310.69 L125.03,310.41 L125.52,310.10 L126.02,309.75 L126.52,309.34 L127.02,308.86 L127.51,308.29 L128.01,307.57 L128.51,306.67 L129.00,305.49 L129.50,303.92 L130.00,301.84 L130.50,299.06 L131.00,295.39 L131.49,290.62 L131.99,284.57 L132.49,277.09 L132.99,268.12 L133.48,257.74 L133.98,246.19 L134.48,233.88 L134.97,221.44 L135.47,209.63 L135.97,199.31 L136.47,191.33 L136.97,186.41 L137.46,185.03 L137.96,187.32 L138.46,193.07 L138.95,201.71 L139.45,212.49 L139.95,224.54 L140.45,237.01 L140.94,249.18 L141.44,260.47 L141.94,270.52 L142.44,279.11 L142.94,286.22 L143.43,291.94 L143.93,296.40 L144.43,299.83 L144.93,302.42 L145.42,304.36 L145.92,305.81 L146.42,306.92 L146.92,307.77 L147.41,308.44 L147.91,308.99 L148.41,309.45 L148.90,309.84 L149.40,310.18 L149.90,310.48 L150.40,310.76 L150.89,311.00 L151.39,311.22 L151.89,311.42 L152.39,311.61 L152.88,311.77 L153.38,311.93 L153.88,312.07 L154.38,312.20 L154.88,312.32 L155.37,312.43 L155.87,312.54 L156.37,312.63 L156.87,312.72 L157.36,312.81 L157.86,312.88 L158.36,312.96 L158.85,313.02 L159.35,313.09 L159.85,313.15 L160.35,313.20 L160.84,313.25 L161.34,313.30 L161.84,313.35 L162.34,313.39 L162.84,313.44 L163.33,313.47 L163.83,313.51 L164.33,313.55 L164.82,313.58 L165.32,313.61 L165.82,313.64 L166.32,313.67 L166.81,313.70 L167.31,313.72 L167.81,313.75 L168.31,313.77 L168.80,313.79 L169.30,313.82 L169.80,313.84 L170.30,313.86 L170.79,313.87 L171.29,313.89 L171.79,313.91 L172.29,313.93 L172.78,313.94 L173.28,313.96 L173.78,313.97 L174.28,313.99 L174.78,314.00 L175.27,314.01 L175.77,314.02 L176.27,314.04 L176.77,314.05 L177.26,314.06 L177.76,314.07 L178.26,314.08 L178.75,314.09 L179.25,314.10 L179.75,314.11 L180.25,314.12 L180.75,314.13 L181.24,314.13 L181.74,314.14 L182.24,314.15 L182.73,314.16 L183.23,314.16 L183.73,314.17 L184.23,314.18 L184.72,314.19 L185.22,314.19 L185.72,314.20 L186.22,314.20 L186.72,314.21 L187.21,314.22 L187.71,314.22 L188.21,314.23 L188.70,314.23 L189.20,314.24 L189.70,314.24 L190.20,314.25 L190.69,314.25 L191.19,314.26 L191.69,314.26 L192.19,314.26 L192.69,314.27 L193.18,314.27 L193.68,314.28 L194.18,314.28 L194.68,314.28 L195.17,314.29 L195.67,314.29 L196.17,314.30 L196.66,314.30 L197.16,314.30 L197.66,314.31 L198.16,314.31 L198.66,314.31 L199.15,314.31 L199.65,314.32 L200.15,314.32 L200.64,314.32 L201.14,314.33 L201.64,314.33 L202.14,314.33 L202.63,314.33 L203.13,314.34 L203.63,314.34 L204.13,314.34 L204.62,314.34 L205.12,314.35 L205.62,314.35 L206.12,314.35 L206.62,314.35 L207.11,314.35 L207.61,314.36 L208.11,314.36 L208.60,314.36 L209.10,314.36 L209.60,314.36 L209.6,314.6 L30.5,314.6 Z" fill="#d27aae" stroke="#d27aae" stroke-width="0.3" style="mix-blend-mode:multiply"/>
</g>
<path d="M30.50,312.17 L31.50,312.04 L32.50,311.45 L33.50,311.68 L34.50,311.25 L35.50,311.35 L36.50,311.63 L37.50,311.45 L38.50,311.99 L39.50,311.96 L40.50,312.22 L41.50,311.96 L42.50,311.52 L43.50,311.09 L44.50,311.52 L45.50,311.47 L46.50,311.29 L47.50,311.24 L48.50,311.73 L49.50,312.11 L50.50,311.47 L51.50,311.89 L52.50,311.14 L53.50,311.42 L54.50,311.50 L55.50,311.58 L56.50,311.59 L57.50,311.43 L58.50,312.13 L59.50,311.88 L60.50,311.59 L61.50,311.56 L62.50,311.29 L63.50,311.56 L64.50,311.58 L65.50,311.58 L66.50,311.42 L67.50,311.82 L68.50,312.16 L69.50,311.75 L70.50,311.61 L71.50,311.53 L72.50,311.07 L73.50,311.11 L74.50,311.49 L75.50,311.39 L76.50,311.63 L77.50,311.63 L78.50,311.78 L79.50,311.84 L80.50,311.14 L81.50,311.60 L82.50,311.31 L83.50,311.09 L84.50,311.61 L85.50,311.54 L86.50,312.08 L87.50,311.90 L88.50,311.64 L89.50,311.53 L90.50,311.14 L91.50,311.41 L92.50,311.11 L93.50,311.24 L94.50,311.38 L95.50,311.67 L96.50,311.64 L97.50,311.64 L98.50,311.72 L99.50,311.37 L100.50,311.64 L101.50,311.12 L102.50,311.16 L103.50,311.01 L104.50,311.30 L105.50,311.90 L106.50,312.09 L107.50,311.71 L108.50,311.93 L109.50,311.43 L110.50,311.52 L111.50,311.52 L112.50,311.61 L113.50,311.24 L114.50,311.89 L115.50,312.05 L116.50,312.04 L117.50,311.45 L118.50,311.79 L119.50,311.37 L120.50,311.22 L121.50,311.00 L122.50,311.13 L123.50,311.26 L124.50,311.90 L125.50,312.06 L126.50,311.94 L127.50,311.33 L128.50,311.09 L129.50,311.53 L130.50,311.48 L131.50,311.48 L132.50,311.61 L133.50,311.63 L134.50,311.80 L135.50,312.14 L136.50,312.07 L137.50,311.56 L138.50,311.44 L139.50,311.21 L140.50,310.94 L141.50,311.22 L142.50,311.50 L143.50,311.65 L144.50,311.86 L145.50,312.16 L146.50,311.33 L147.50,311.22 L148.50,311.03 L149.50,311.04 L150.50,311.37 L151.50,311.49 L152.50,311.89 L153.50,311.76 L154.50,312.29 L155.50,312.03 L156.50,311.71 L157.50,311.58 L158.50,311.37 L159.50,311.57 L160.50,311.69 L161.50,311.75 L162.50,312.00 L163.50,312.07 L164.50,312.19 L165.50,311.36 L166.50,311.34 L167.50,311.54 L168.50,311.42 L169.50,311.40 L170.50,311.51 L171.50,311.87 L172.50,311.60 L173.50,311.65 L174.50,311.77 L175.50,311.53 L176.50,311.64 L177.50,311.54 L178.50,311.37 L179.50,311.50 L180.50,311.27 L181.50,311.95 L182.50,312.30 L183.50,311.56 L184.50,311.61 L185.50,311.68 L186.50,311.27 L187.50,311.58 L188.50,311.27 L189.50,311.07 L190.50,311.34 L191.50,311.69 L192.50,312.17 L193.50,311.84 L194.50,311.76 L195.50,311.17 L196.50,311.24 L197.50,311.06 L198.50,311.45 L199.50,311.68 L200.50,311.48 L201.50,311.62 L202.50,311.64 L203.50,311.42 L204.50,311.22 L205.50,311.14 L206.50,311.44 L207.50,311.27 L208.50,311.50 L209.50,311.91 L210.50,312.15 L209.6,314.6 L30.5,314.6 Z" fill="#9e90d2" fill-opacity="0.75"/>
<line x1="81.5" y1="195.4" x2="141" y2="195.4" stroke="#d46aa6" stroke-width="1.1"/>
<circle cx="81.5" cy="195.4" r="2.7" fill="#d060a0"/><circle cx="81.3" cy="195.2" r="1.1" fill="#e8a0c8"/>
<path d="M145.60,195.40 L138.60,199.00 L138.90,195.40 L138.60,191.80 Z" fill="#d060a0"/>
<text x="35.10" y="196.90" font-size="9.6" text-anchor="start" font-weight="bold" font-style="normal" fill="#c4478a">Pump</text>
<text x="149.40" y="197.90" font-size="8.7" text-anchor="start" font-weight="bold" font-style="normal" fill="#c4478a">52.4 W</text>
<line x1="29.925" y1="184.6" x2="210.17499999999998" y2="184.6" stroke="#333" stroke-width="1.15"/>
<line x1="209.6" y1="184.6" x2="209.6" y2="314.6" stroke="#777" stroke-width="1.15"/>
<line x1="29.925" y1="314.6" x2="210.17499999999998" y2="314.6" stroke="#444" stroke-width="1.15"/>
<line x1="30.5" y1="184.6" x2="30.5" y2="314.6" stroke="#333" stroke-width="1.15"/>
<line x1="31.0" y1="314.5" x2="209.1" y2="314.5" stroke="#bb4f66" stroke-width="2.2"/>
<line x1="30.5" y1="314.50" x2="32.7" y2="314.50" stroke="#333" stroke-width="0.8"/>
<text x="26.10" y="317.60" font-size="8.6" text-anchor="end" font-weight="normal" font-style="normal" fill="#1e1e1e">0.0</text>
<line x1="30.5" y1="288.60" x2="32.7" y2="288.60" stroke="#333" stroke-width="0.8"/>
<text x="26.10" y="291.70" font-size="8.6" text-anchor="end" font-weight="normal" font-style="normal" fill="#1e1e1e">0.2</text>
<line x1="30.5" y1="262.70" x2="32.7" y2="262.70" stroke="#333" stroke-width="0.8"/>
<text x="26.10" y="265.80" font-size="8.6" text-anchor="end" font-weight="normal" font-style="normal" fill="#1e1e1e">0.4</text>
<line x1="30.5" y1="236.80" x2="32.7" y2="236.80" stroke="#333" stroke-width="0.8"/>
<text x="26.10" y="239.90" font-size="8.6" text-anchor="end" font-weight="normal" font-style="normal" fill="#1e1e1e">0.6</text>
<line x1="30.5" y1="210.90" x2="32.7" y2="210.90" stroke="#333" stroke-width="0.8"/>
<text x="26.10" y="214.00" font-size="8.6" text-anchor="end" font-weight="normal" font-style="normal" fill="#1e1e1e">0.8</text>
<line x1="30.5" y1="185.00" x2="32.7" y2="185.00" stroke="#333" stroke-width="0.8"/>
<text x="26.10" y="188.10" font-size="8.6" text-anchor="end" font-weight="normal" font-style="normal" fill="#1e1e1e">1.0</text>
<text x="31.80" y="326.80" font-size="8.6" text-anchor="middle" font-weight="normal" font-style="normal" fill="#1e1e1e">586</text>
<text x="66.00" y="326.80" font-size="8.6" text-anchor="middle" font-weight="normal" font-style="normal" fill="#1e1e1e">588</text>
<text x="100.30" y="326.80" font-size="8.6" text-anchor="middle" font-weight="normal" font-style="normal" fill="#1e1e1e">590</text>
<text x="135.80" y="326.80" font-size="8.6" text-anchor="middle" font-weight="normal" font-style="normal" fill="#1e1e1e">592</text>
<text x="170.00" y="326.80" font-size="8.6" text-anchor="middle" font-weight="normal" font-style="normal" fill="#1e1e1e">594</text>
<text x="204.80" y="326.80" font-size="8.6" text-anchor="middle" font-weight="normal" font-style="normal" fill="#1e1e1e">596</text>
<text x="121.00" y="339.80" font-size="8.7" text-anchor="middle" font-weight="normal" font-style="normal" fill="#1e1e1e">Wavelength (nm)</text>
<text x="6.90" y="247.40" font-size="9.2" text-anchor="middle" font-weight="normal" font-style="normal" fill="#1e1e1e" transform="rotate(-90 6.90 247.40)">Intensity (a.u.)</text>
<text x="-0.30" y="187.40" font-size="14" text-anchor="start" font-weight="bold" font-style="normal" fill="#111">d</text>
<rect x="258.5" y="185" width="179.10" height="130.00" fill="url(#ge)"/>
<line x1="276.60" y1="185" x2="276.60" y2="315" stroke="#e2dee2" stroke-width="0.55" stroke-dasharray="1.1 1.7"/>
<line x1="312.40" y1="185" x2="312.40" y2="315" stroke="#e2dee2" stroke-width="0.55" stroke-dasharray="1.1 1.7"/>
<line x1="348.20" y1="185" x2="348.20" y2="315" stroke="#e2dee2" stroke-width="0.55" stroke-dasharray="1.1 1.7"/>
<line x1="384.00" y1="185" x2="384.00" y2="315" stroke="#e2dee2" stroke-width="0.55" stroke-dasharray="1.1 1.7"/>
<line x1="419.80" y1="185" x2="419.80" y2="315" stroke="#e2dee2" stroke-width="0.55" stroke-dasharray="1.1 1.7"/>
<line x1="258.5" y1="249.60" x2="437.6" y2="249.60" stroke="#e2dee2" stroke-width="0.55" stroke-dasharray="1.1 1.7"/>
<polyline points="270.30,231.00 288.40,222.60 307.00,235.00 325.20,247.60 343.40,247.70 362.50,243.90 381.50,230.70 400.00,243.90 418.40,252.00 427.70,252.00" fill="none" stroke="#de4a86" stroke-width="1.5" stroke-dasharray="3.4 2.2" stroke-linejoin="round"/>
<polyline points="270.30,300.70 288.40,299.60 307.00,296.10 325.20,289.50 343.40,286.30 362.50,278.10 381.50,257.90 400.00,264.90 418.40,221.90 427.70,218.40" fill="none" stroke="#17698c" stroke-width="1.5" stroke-dasharray="3.4 2.2" stroke-linejoin="round"/>
<circle cx="270.30" cy="231.00" r="2.7" fill="#de4a86"/>
<circle cx="288.40" cy="222.60" r="2.7" fill="#de4a86"/>
<circle cx="307.00" cy="235.00" r="2.7" fill="#de4a86"/>
<circle cx="325.20" cy="247.60" r="2.7" fill="#de4a86"/>
<circle cx="343.40" cy="247.70" r="2.7" fill="#de4a86"/>
<circle cx="362.50" cy="243.90" r="2.7" fill="#de4a86"/>
<circle cx="381.50" cy="230.70" r="2.7" fill="#de4a86"/>
<circle cx="400.00" cy="243.90" r="2.7" fill="#de4a86"/>
<circle cx="418.40" cy="252.00" r="2.7" fill="#de4a86"/>
<circle cx="427.70" cy="252.00" r="2.7" fill="#de4a86"/>
<circle cx="270.30" cy="300.70" r="3.0" fill="#17698c"/>
<circle cx="288.40" cy="299.60" r="3.0" fill="#17698c"/>
<circle cx="307.00" cy="296.10" r="3.0" fill="#17698c"/>
<circle cx="325.20" cy="289.50" r="3.0" fill="#17698c"/>
<circle cx="343.40" cy="286.30" r="3.0" fill="#17698c"/>
<circle cx="362.50" cy="278.10" r="3.0" fill="#17698c"/>
<circle cx="381.50" cy="257.90" r="3.0" fill="#17698c"/>
<circle cx="400.00" cy="264.90" r="3.0" fill="#17698c"/>
<circle cx="418.40" cy="221.90" r="3.0" fill="#17698c"/>
<circle cx="427.70" cy="218.40" r="3.0" fill="#17698c"/>
<line x1="266" y1="190.3" x2="284.7" y2="190.3" stroke="#17698c" stroke-width="1.7"/>
<path d="M261.40,190.30 L269.20,187.00 L267.60,190.30 L269.20,193.60 Z" fill="#17698c"/>
<line x1="403.2" y1="299.6" x2="421" y2="299.6" stroke="#e0457e" stroke-width="1.7"/>
<path d="M426.80,299.60 L419.00,302.90 L420.60,299.60 L419.00,296.30 Z" fill="#e0457e"/>
<line x1="257.925" y1="185" x2="438.175" y2="185" stroke="#808080" stroke-width="1.15"/>
<line x1="437.6" y1="185" x2="437.6" y2="315" stroke="#3a3a3a" stroke-width="1.15"/>
<line x1="257.925" y1="315" x2="438.175" y2="315" stroke="#3a3a3a" stroke-width="1.15"/>
<line x1="258.5" y1="185" x2="258.5" y2="315" stroke="#444" stroke-width="1.15"/>
<line x1="258.5" y1="314.00" x2="260.7" y2="314.00" stroke="#333" stroke-width="0.8"/>
<text x="254.00" y="317.10" font-size="8.6" text-anchor="end" font-weight="normal" font-style="normal" fill="#1e1e1e">589</text>
<line x1="258.5" y1="249.50" x2="260.7" y2="249.50" stroke="#333" stroke-width="0.8"/>
<text x="254.00" y="252.60" font-size="8.6" text-anchor="end" font-weight="normal" font-style="normal" fill="#1e1e1e">591</text>
<line x1="258.5" y1="185.60" x2="260.7" y2="185.60" stroke="#333" stroke-width="0.8"/>
<text x="254.00" y="188.70" font-size="8.6" text-anchor="end" font-weight="normal" font-style="normal" fill="#1e1e1e">593</text>
<line x1="437.6" y1="314.50" x2="435.40000000000003" y2="314.50" stroke="#333" stroke-width="0.8"/>
<text x="442.00" y="317.60" font-size="8.6" text-anchor="start" font-weight="normal" font-style="normal" fill="#1e1e1e">0.2</text>
<line x1="437.6" y1="272.80" x2="435.40000000000003" y2="272.80" stroke="#333" stroke-width="0.8"/>
<text x="442.00" y="275.90" font-size="8.6" text-anchor="start" font-weight="normal" font-style="normal" fill="#1e1e1e">0.3</text>
<line x1="437.6" y1="231.00" x2="435.40000000000003" y2="231.00" stroke="#333" stroke-width="0.8"/>
<text x="442.00" y="234.10" font-size="8.6" text-anchor="start" font-weight="normal" font-style="normal" fill="#1e1e1e">0.4</text>
<line x1="437.6" y1="189.30" x2="435.40000000000003" y2="189.30" stroke="#333" stroke-width="0.8"/>
<text x="442.00" y="192.40" font-size="8.6" text-anchor="start" font-weight="normal" font-style="normal" fill="#1e1e1e">0.5</text>
<line x1="276.60" y1="315" x2="276.60" y2="312.8" stroke="#333" stroke-width="0.8"/>
<text x="276.60" y="326.80" font-size="8.6" text-anchor="middle" font-weight="normal" font-style="normal" fill="#1e1e1e">10</text>
<line x1="312.40" y1="315" x2="312.40" y2="312.8" stroke="#333" stroke-width="0.8"/>
<text x="312.40" y="326.80" font-size="8.6" text-anchor="middle" font-weight="normal" font-style="normal" fill="#1e1e1e">20</text>
<line x1="348.20" y1="315" x2="348.20" y2="312.8" stroke="#333" stroke-width="0.8"/>
<text x="348.20" y="326.80" font-size="8.6" text-anchor="middle" font-weight="normal" font-style="normal" fill="#1e1e1e">30</text>
<line x1="384.00" y1="315" x2="384.00" y2="312.8" stroke="#333" stroke-width="0.8"/>
<text x="384.00" y="326.80" font-size="8.6" text-anchor="middle" font-weight="normal" font-style="normal" fill="#1e1e1e">40</text>
<line x1="419.80" y1="315" x2="419.80" y2="312.8" stroke="#333" stroke-width="0.8"/>
<text x="419.80" y="326.80" font-size="8.6" text-anchor="middle" font-weight="normal" font-style="normal" fill="#1e1e1e">50</text>
<text x="348.40" y="339.60" font-size="8.6" text-anchor="middle" font-weight="normal" font-style="normal" fill="#1e1e1e">Pump power (W)</text>
<text x="230.00" y="250.10" font-size="8.4" text-anchor="middle" font-weight="normal" font-style="normal" fill="#1e1e1e" transform="rotate(-90 230.00 250.10)">Wavelength (nm)</text>
<text x="466.50" y="249.00" font-size="8.35" text-anchor="middle" font-weight="normal" font-style="normal" fill="#1e1e1e" transform="rotate(-90 466.50 249.00)">FWHM(nm)</text>
<text x="222.50" y="188.50" font-size="14" text-anchor="start" font-weight="bold" font-style="normal" fill="#111">e</text>
<rect x="515.4" y="186" width="160.10" height="128.30" fill="url(#gf)"/>
<line x1="515.4" y1="282.12" x2="675.5" y2="282.12" stroke="#e2dee2" stroke-width="0.55" stroke-dasharray="1.1 1.7"/>
<line x1="515.4" y1="250.35" x2="675.5" y2="250.35" stroke="#e2dee2" stroke-width="0.55" stroke-dasharray="1.1 1.7"/>
<line x1="515.4" y1="218.57" x2="675.5" y2="218.57" stroke="#e2dee2" stroke-width="0.55" stroke-dasharray="1.1 1.7"/>
<line x1="568.77" y1="186" x2="568.77" y2="314.3" stroke="#e2dee2" stroke-width="0.55" stroke-dasharray="1.1 1.7"/>
<line x1="622.13" y1="186" x2="622.13" y2="314.3" stroke="#e2dee2" stroke-width="0.55" stroke-dasharray="1.1 1.7"/>
<polyline points="515.40,256.86 516.31,252.85 517.23,252.14 518.14,251.88 519.06,250.85 519.97,251.10 520.89,252.39 521.80,257.17 522.62,255.49 523.43,252.05 524.25,251.36 525.06,250.26 525.88,250.29 526.69,251.09 527.51,250.30 528.32,250.84 529.14,250.19 529.95,251.58 530.77,250.98 531.58,252.92 532.40,257.27 533.26,251.82 534.12,251.99 534.98,251.99 535.84,251.70 536.70,250.70 537.56,250.89 538.42,251.51 539.28,251.67 540.14,253.07 541.00,257.32 541.83,252.45 542.67,251.84 543.50,253.83 544.33,253.81 545.17,250.55 546.00,251.27 546.83,250.76 547.67,251.23 548.50,250.87 549.33,251.49 550.17,252.95 551.00,257.56 551.80,252.19 552.60,251.53 553.40,251.37 554.20,250.93 555.00,251.43 555.80,251.41 556.60,250.77 557.40,252.14 558.20,251.76 559.00,256.60 559.85,251.90 560.69,252.17 561.54,250.87 562.38,251.33 563.23,251.53 564.07,250.60 564.92,250.97 565.76,252.04 566.61,251.29 567.45,252.52 568.30,256.95 569.10,252.31 569.90,254.39 570.70,252.08 571.50,251.03 572.30,251.86 573.10,250.81 573.90,250.68 574.70,251.04 575.50,251.35 576.30,252.08 577.10,251.41 577.90,252.41 578.70,255.28 579.50,256.60 580.33,252.79 581.15,251.30 581.98,250.85 582.80,251.13 583.62,251.13 584.45,250.68 585.27,251.09 586.10,250.65 586.92,250.83 587.75,251.62 588.57,252.96 589.40,256.75 590.24,251.55 591.09,250.81 591.93,251.17 592.78,250.89 593.62,250.37 594.47,251.00 595.31,251.95 596.16,252.23 597.00,256.98 597.88,251.98 598.76,250.74 599.63,249.82 600.51,249.65 601.39,249.91 602.27,249.86 603.14,251.39 604.02,251.39 604.90,257.14 605.79,252.12 606.67,252.15 607.56,251.29 608.44,251.88 609.33,253.57 610.21,252.16 611.10,259.23 611.93,252.26 612.75,253.62 613.58,251.38 614.40,251.54 615.23,251.58 616.05,251.85 616.88,251.12 617.70,251.01 618.52,255.12 619.35,252.70 620.17,253.16 621.00,257.23 621.80,253.19 622.60,252.50 623.40,252.22 624.20,251.74 625.00,250.75 625.80,254.45 626.60,251.75 627.40,252.22 628.20,255.80 629.00,257.20 629.82,255.26 630.64,252.97 631.46,251.18 632.28,250.96 633.10,250.54 633.92,250.60 634.74,251.23 635.56,253.28 636.38,251.72 637.20,258.92 638.05,252.48 638.91,252.38 639.76,251.40 640.62,251.38 641.47,250.73 642.32,250.76 643.18,254.21 644.03,251.71 644.88,251.36 645.74,251.29 646.59,251.70 647.45,252.30 648.30,256.69 649.13,251.74 649.97,251.19 650.80,251.04 651.63,252.11 652.47,250.22 653.30,249.98 654.13,250.65 654.97,251.03 655.80,256.67 656.62,252.47 657.45,251.09 658.27,250.77 659.10,250.76 659.92,250.38 660.75,252.96 661.58,250.18 662.40,250.29 663.23,250.94 664.05,251.21 664.88,252.71 665.70,257.78 666.52,252.45 667.33,251.00 668.15,251.12 668.97,251.12 669.78,250.13 670.60,250.19 671.42,250.55 672.23,251.25 673.05,250.86 673.87,251.35 674.68,252.24 675.50,256.50" fill="none" stroke="#e0407e" stroke-width="1.8" stroke-linejoin="round"/>
<line x1="514.8249999999999" y1="186" x2="676.075" y2="186" stroke="#54468a" stroke-width="1.15"/>
<line x1="675.5" y1="186" x2="675.5" y2="314.3" stroke="#3a3550" stroke-width="1.15"/>
<line x1="514.8249999999999" y1="314.3" x2="676.075" y2="314.3" stroke="#4a4060" stroke-width="1.15"/>
<line x1="515.4" y1="186" x2="515.4" y2="314.3" stroke="#3a2d60" stroke-width="1.15"/>
<line x1="515.4" y1="313.90" x2="517.6" y2="313.90" stroke="#333" stroke-width="0.8"/>
<text x="510.60" y="317.00" font-size="8.6" text-anchor="end" font-weight="normal" font-style="normal" fill="#1e1e1e">0</text>
<line x1="515.4" y1="282.12" x2="517.6" y2="282.12" stroke="#333" stroke-width="0.8"/>
<text x="510.60" y="285.23" font-size="8.6" text-anchor="end" font-weight="normal" font-style="normal" fill="#1e1e1e">3</text>
<line x1="515.4" y1="250.35" x2="517.6" y2="250.35" stroke="#333" stroke-width="0.8"/>
<text x="510.60" y="253.45" font-size="8.6" text-anchor="end" font-weight="normal" font-style="normal" fill="#1e1e1e">6</text>
<line x1="515.4" y1="218.57" x2="517.6" y2="218.57" stroke="#333" stroke-width="0.8"/>
<text x="510.60" y="221.67" font-size="8.6" text-anchor="end" font-weight="normal" font-style="normal" fill="#1e1e1e">9</text>
<line x1="515.4" y1="186.80" x2="517.6" y2="186.80" stroke="#333" stroke-width="0.8"/>
<text x="510.60" y="189.90" font-size="8.6" text-anchor="end" font-weight="normal" font-style="normal" fill="#1e1e1e">12</text>
<line x1="568.77" y1="314.3" x2="568.77" y2="312.1" stroke="#333" stroke-width="0.8"/>
<text x="568.77" y="326.80" font-size="8.6" text-anchor="middle" font-weight="normal" font-style="normal" fill="#1e1e1e">1200</text>
<line x1="622.13" y1="314.3" x2="622.13" y2="312.1" stroke="#333" stroke-width="0.8"/>
<text x="622.13" y="326.80" font-size="8.6" text-anchor="middle" font-weight="normal" font-style="normal" fill="#1e1e1e">2400</text>
<text x="675.50" y="326.80" font-size="8.6" text-anchor="middle" font-weight="normal" font-style="normal" fill="#1e1e1e">3600</text>
<text x="596.30" y="338.10" font-size="8.4" text-anchor="middle" font-weight="normal" font-style="normal" fill="#1e1e1e">Time (s)</text>
<text x="494.50" y="250.10" font-size="8.5" text-anchor="middle" font-weight="normal" font-style="normal" fill="#1e1e1e" transform="rotate(-90 494.50 250.10)">Output power (W)</text>
<text x="570.00" y="244.70" font-size="8.7" text-anchor="start" font-weight="bold" font-style="normal" fill="#de4a86">Std.Dev.:143.9 mW</text>
<text x="477.30" y="188.00" font-size="14" text-anchor="start" font-weight="bold" font-style="normal" fill="#111">f</text>
</svg></body></html>
